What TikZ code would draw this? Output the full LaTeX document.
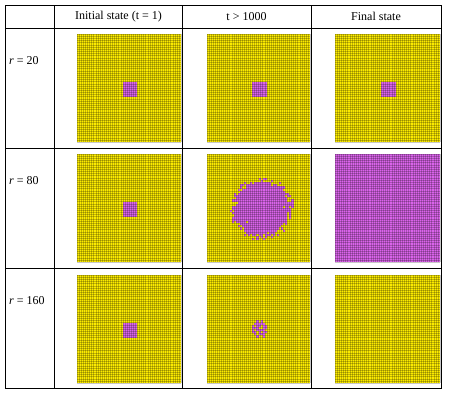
\documentclass[tikz,border=0pt]{standalone}
\usepackage{fontspec}
\setmainfont{Liberation Serif}
\definecolor{cayel}{RGB}{252,235,0}
\definecolor{camag}{RGB}{218,100,235}
\newcommand\lattice[4]{% x0, y0, w, h
  \foreach \k in {0,...,50}{
    \draw[latline] ({#1+\k*#3/50},#2) -- ++(0,#4);
    \draw[latline] (#1,{#2+\k*#4/50}) -- ++(#3,0);
  }}
\newcommand\cellsq[6]{% x0,y0,w,h,i,j
  \fill[camag] ({#1+#5*#3/50},{#2+#6*#4/50}) rectangle ++({#3/50},{#4/50});}
\newcommand\seedsq[4]{% x0,y0,w,h : 7x7 square at cells 22..28
  \fill[camag] ({#1+22*#3/50},{#2+22*#4/50}) rectangle ({#1+29*#3/50},{#2+29*#4/50});}
\begin{document}
\begin{tikzpicture}[x=1pt,y=-1pt,
  latline/.style={draw=black,opacity=0.22,line width=0.35pt},
  tline/.style={draw=black,line width=0.9pt},
  lbl/.style={font=\fontsize{12}{14}\selectfont,inner sep=0pt}]
\useasboundingbox (0,0) rectangle (449,392);
\fill[white] (0,0) rectangle (449,392);
% ---------- panels ----------
% row 1
\fill[cayel] (77,34) rectangle ++(104,108);
\seedsq{77}{34}{104}{108}
\lattice{77}{34}{104}{108}
\fill[cayel] (207,34) rectangle ++(103,108);
\seedsq{207}{34}{103}{108}
\lattice{207}{34}{103}{108}
\fill[cayel] (335,34) rectangle ++(105,108);
\seedsq{335}{34}{105}{108}
\lattice{335}{34}{105}{108}
% row 2
\fill[cayel] (77,154) rectangle ++(104,108);
\seedsq{77}{154}{104}{108}
\lattice{77}{154}{104}{108}
\fill[cayel] (207,154) rectangle ++(103,108);
\pgfmathsetseed{11}
\foreach \i in {9,...,44}{
  \foreach \j in {8,...,43}{
    \pgfmathsetmacro\dd{sqrt((\i+0.5-26.5)^2+((\j+0.5-25.2)*1.05)^2)}
    \pgfmathsetmacro\lim{12.3+3.4*rnd}
    \pgfmathtruncatemacro\inside{\dd<\lim}
    \ifnum\inside=1 \cellsq{207}{154}{103}{108}{\i}{\j}\fi
  }}
\foreach \i/\j in {20/13,31/14,14/22,37/24,24/37,29/36,19/31}{
  \fill[cayel] ({207+\i*103/50},{154+\j*108/50}) rectangle ++({103/50},{108/50});}
\lattice{207}{154}{103}{108}
\fill[camag] (335,154) rectangle ++(105,108);
\lattice{335}{154}{105}{108}
% row 3
\fill[cayel] (77,275) rectangle ++(104,108);
\seedsq{77}{275}{104}{108}
\lattice{77}{275}{104}{108}
\fill[cayel] (207,275) rectangle ++(103,108);
\foreach \i/\j in {24/21,26/21,23/22,24/22,25/22,26/22,27/22,
  22/23,24/23,25/23,27/23,28/23,22/24,23/24,24/24,27/24,28/24,
  22/25,24/25,25/25,26/25,27/25,22/26,23/26,25/26,27/26,28/26,
  23/27,25/27,26/27,27/27,24/28,27/28}{
  \cellsq{207}{275}{103}{108}{\i}{\j}}
\lattice{207}{275}{103}{108}
\fill[cayel] (335,275) rectangle ++(105,108);
\lattice{335}{275}{105}{108}
% ---------- table ----------
\draw[tline] (5,5) rectangle (441,388);
\draw[tline] (5,28) -- (441,28);
\draw[tline] (5,148) -- (441,148);
\draw[tline] (5,268) -- (441,268);
\draw[tline] (54.5,5) -- (54.5,388);
\draw[tline] (182.5,5) -- (182.5,388);
\draw[tline] (311,5) -- (311,388);
% ---------- texts ----------
\node[lbl] (h1) at (118.5,16.5) {Initial state (t = 1)};
\node[lbl] (h2) at (246.5,16.5) {t > 1000};
\node[lbl] (h3) at (376,16.5) {Final state};
\node[lbl,anchor=west] (r1) at (9,61) {\textit{r} = 20};
\node[lbl,anchor=west] (r2) at (9,180.5) {\textit{r} = 80};
\node[lbl,anchor=west] (r3) at (9,300.5) {\textit{r} = 160};
\end{tikzpicture}
\end{document}
